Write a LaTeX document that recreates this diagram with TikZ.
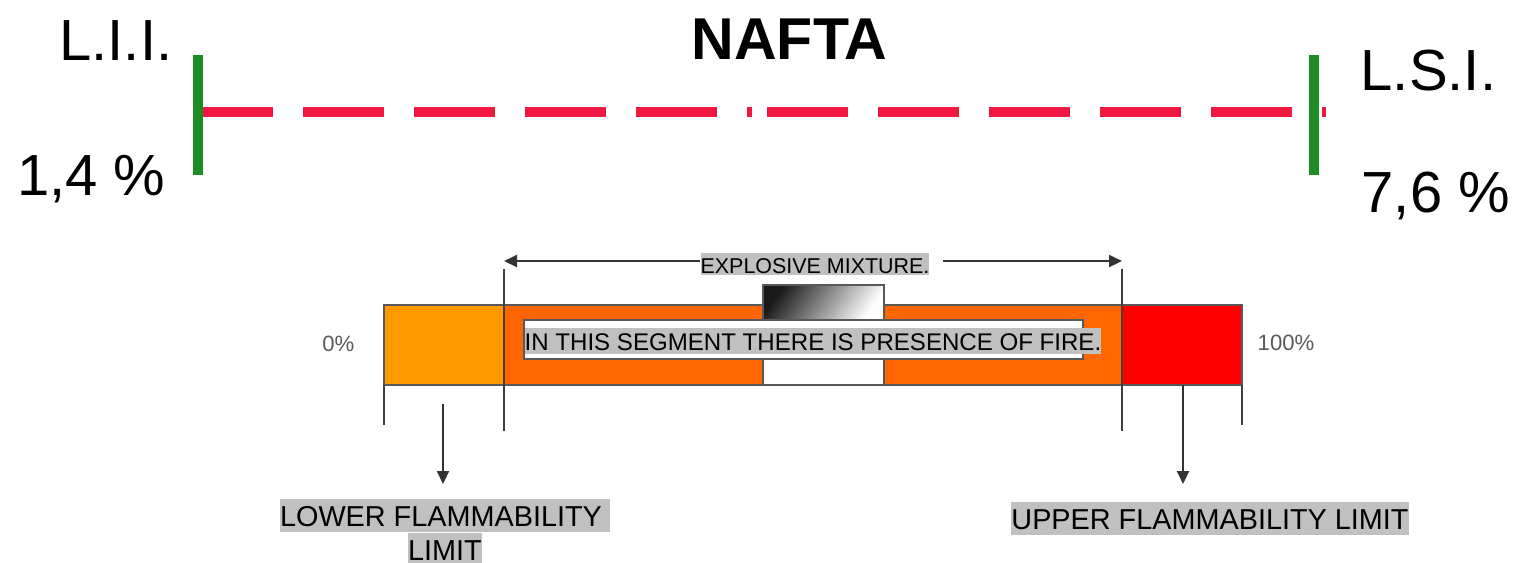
\documentclass[tikz,border=0pt]{standalone}
\usepackage{fontspec}
\setmainfont{Liberation Sans}
\usepackage{tikz}
\usetikzlibrary{arrows.meta,calc,positioning}
\definecolor{LimitRed}{HTML}{EE1843}
\definecolor{LimitGreen}{HTML}{1C8C24}
\definecolor{LeanOrange}{HTML}{FF9900}
\definecolor{FireOrange}{HTML}{FF6600}
\definecolor{RichRed}{HTML}{FF0000}
\definecolor{MarkGrey}{HTML}{C0C0C0}
\definecolor{LineGrey}{HTML}{404040}
\definecolor{PctGrey}{HTML}{5A5A5A}
\newcommand{\hlbox}[3]{{\setlength{\fboxsep}{0pt}\colorbox{MarkGrey}{\rule[-#1]{0pt}{#2}#3}}}

\begin{document}
\begin{tikzpicture}[
  every node/.style={inner sep=0pt},
  bigtext/.style={font=\fontsize{16.5}{19}\selectfont},
  pct/.style={font=\fontsize{6.3}{7.5}\selectfont, text=PctGrey},
  limitbar/.style={LimitGreen, line width=0.1cm},
  rangeline/.style={LimitRed, line width=0.1cm, dash pattern=on 0.81cm off 0.30cm},
  segline/.style={LineGrey, line width=0.4pt},
  barpart/.style={draw=black!65, line width=0.35pt},
  dimarrow/.style={-{Triangle[length=0.13cm,width=0.12cm]}, black!80, line width=0.6pt},
  flabel/.style={font=\fontsize{8.2}{9.7}\selectfont, align=center}
]
\useasboundingbox (0,0) rectangle (15.19,-5.62);

% range of the naphtha
\draw[rangeline, dash phase=0.02cm] (1.94,-1.12) -- (7.52,-1.12);
\draw[rangeline] (7.67,-1.12) -- (13.26,-1.12);
\draw[limitbar] (1.98,-0.55) -- (1.98,-1.75);
\draw[limitbar] (13.14,-0.55) -- (13.14,-1.75);
\node[bigtext, anchor=base east] (lii) at (1.73,-0.60) {L.I.I.};
\node[bigtext, anchor=base east] (liipct) at (1.66,-1.95) {1,4 \%};
\node[bigtext, anchor=base west] (lsi) at (13.60,-0.90) {L.S.I.};
\node[bigtext, anchor=base west] (lsipct) at (13.61,-2.12) {7,6 \%};
\node[anchor=base, font=\bfseries\fontsize{16.8}{20}\selectfont] (title) at (7.895,-0.59) {NAFTA};

% mixture bar
\draw[barpart, fill=LeanOrange] (3.84,-3.05) rectangle (5.04,-3.85);
\draw[barpart, fill=FireOrange] (5.04,-3.05) rectangle (11.22,-3.85);
\draw[barpart, fill=RichRed] (11.22,-3.05) rectangle (12.42,-3.85);
\draw[barpart, fill=white] (7.63,-2.85) rectangle (8.84,-3.85);
\shade[left color=black!90, right color=white, shading angle=55] (7.63,-2.85) rectangle (8.84,-3.20);
\draw[barpart] (7.63,-2.85) rectangle (8.84,-3.85);
\draw[barpart, fill=white] (5.24,-3.20) rectangle (10.83,-3.59);
\node[anchor=base west, font=\fontsize{6.85}{8}\selectfont] (segtext) at (5.24,-3.50)
  {\hlbox{0.04cm}{0.26cm}{IN THIS SEGMENT THERE IS PRESENCE OF FIRE.}};
\node[pct, anchor=base east] (zero) at (3.55,-3.51) {0\%};
\node[pct, anchor=base west] (full) at (12.57,-3.50) {100\%};

% ticks under the bar
\draw[segline] (3.84,-3.85) -- (3.84,-4.25);
\draw[segline] (5.04,-2.69) -- (5.04,-4.31);
\draw[segline] (11.22,-2.69) -- (11.22,-4.31);
\draw[segline] (12.42,-3.85) -- (12.42,-4.25);

% explosive range
\coordinate (mixleft) at (5.04,-2.61);
\coordinate (mixright) at (11.22,-2.61);
\node[anchor=base, font=\fontsize{6.1}{7}\selectfont] (mixtext) at (8.15,-2.73)
  {\hlbox{0.02cm}{0.22cm}{EXPLOSIVE MIXTURE.}};
\draw[dimarrow] (mixtext.west |- mixleft) -- (mixleft);
\draw[dimarrow] ([xshift=0.13cm]mixtext.east |- mixright) -- (mixright);

% limits
\node[flabel, anchor=north] (lfl) at (4.45,-4.98)
  {\hlbox{0.05cm}{0.33cm}{LOWER FLAMMABILITY }\\\hlbox{0.02cm}{0.30cm}{LIMIT}};
\node[flabel, anchor=north] (ufl) at (12.10,-5.01)
  {\hlbox{0.05cm}{0.33cm}{UPPER FLAMMABILITY LIMIT}};
\coordinate (lowtail) at (4.43,-4.04);
\coordinate (uptail) at (11.83,-3.85);
\draw[dimarrow, shorten >=0.14cm] (lowtail) -- (lowtail |- lfl.north);
\draw[dimarrow, shorten >=0.17cm] (uptail) -- (uptail |- ufl.north);
\end{tikzpicture}
\end{document}
